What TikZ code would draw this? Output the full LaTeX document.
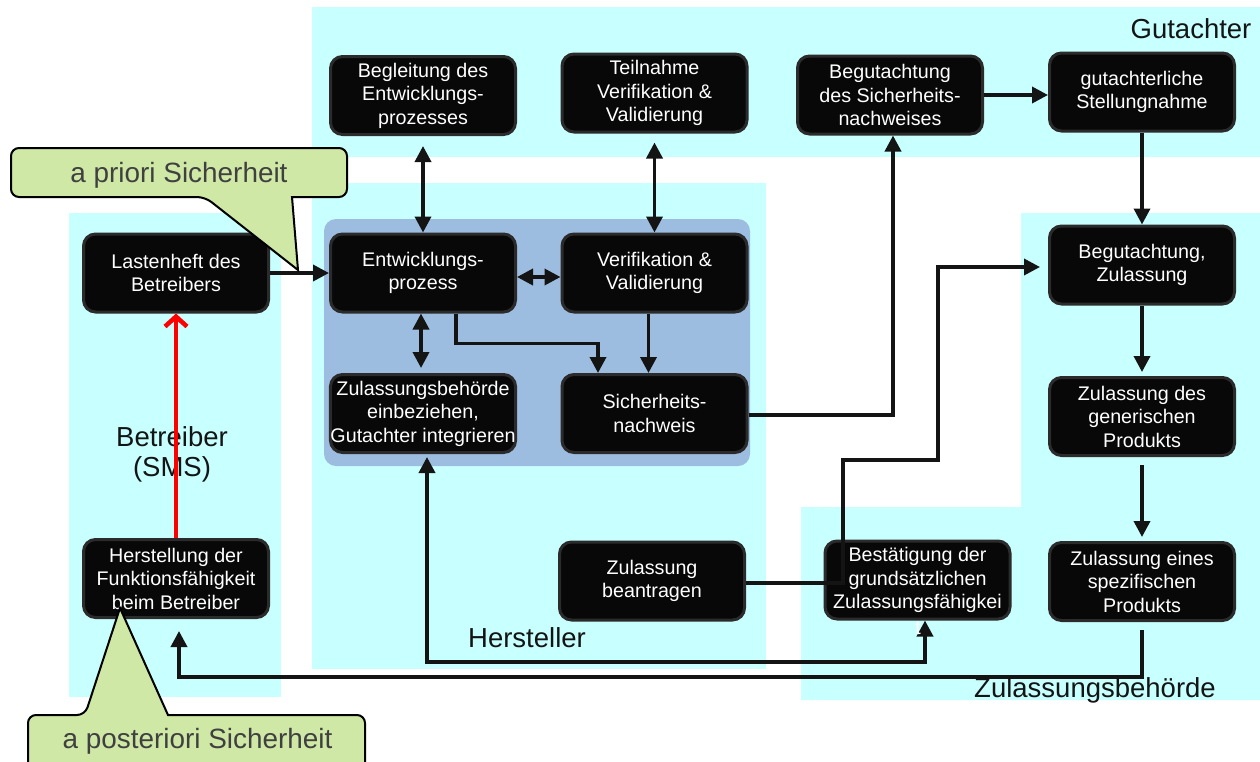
\documentclass[tikz,border=0pt]{standalone}
\usepackage{fontspec}
\setmainfont{Liberation Sans}
\usetikzlibrary{arrows.meta}

\definecolor{zone}{HTML}{C8FFFF}
\definecolor{core}{HTML}{9DBDE0}
\definecolor{boxfill}{HTML}{080808}
\definecolor{boxline}{HTML}{2B2B2B}
\definecolor{note}{HTML}{CFE8A6}
\definecolor{notetext}{HTML}{404040}
\definecolor{ink}{HTML}{141414}

\tikzset{
  blk/.style={draw=boxline, fill=boxfill, line width=3pt, rounded corners=12pt,
    minimum width=185pt, minimum height=78pt, text=white, align=center,
    inner sep=0pt, font=\fontsize{19.7}{23.5}\selectfont},
  zonelabel/.style={text=ink, font=\fontsize{27.5}{31}\selectfont, inner sep=0pt, anchor=base},
  arr/.style={draw=ink, line width=3.6pt, -{Triangle[length=16pt,width=16pt]}},
  dbl/.style={draw=ink, line width=3.6pt,
    {Triangle[length=16pt,width=16pt]}-{Triangle[length=16pt,width=16pt]}},
  callout/.style={fill=note, draw=black, line width=2pt},
  notelabel/.style={text=notetext, font=\fontsize{27.9}{32}\selectfont, inner sep=0pt, anchor=base},
}

\begin{document}
\begin{tikzpicture}[x=1pt, y=-1pt]
  \clip (0,0) rectangle (1260,761);

  % responsibility zones
  \fill[zone] (312,7) rectangle (1260,157);
  \fill[zone] (312,183) rectangle (766,669);
  \fill[zone] (69,213) rectangle (281,697);
  \fill[zone] (1021,213) -- (1260,213) -- (1260,700) -- (801,700) -- (801,507) -- (1021,507) -- cycle;
  \fill[core, rounded corners=12pt] (324,219) rectangle (750,466);

  % zone labels
  \node[zonelabel] (lg) at (1191,38) {Gutachter};
  \node[zonelabel] (lh) at (527,647) {Hersteller};
  \node[zonelabel] (lb1) at (172,446) {Betreiber};
  \node[zonelabel] (lb2) at (172,476) {(SMS)};
  \node[zonelabel] (lz) at (1095,697) {Zulassungsbehörde};

  % process steps
  \node[blk] (begl)  at (423,95.5)   {Begleitung des\\Entwicklungs-\\prozesses};
  \node[blk] (teil)  at (654.5,93)   {Teilnahme\\Verifikation \&\\Validierung};
  \node[blk] (bgsn)  at (890,95)     {Begutachtung\\des Sicherheits-\\nachweises};
  \node[blk] (gust)  at (1142,92)    {gutachterliche\\Stellungnahme};
  \node[blk] (last)  at (176,273)    {Lastenheft des\\Betreibers};
  \node[blk] (entw)  at (423,273)    {Entwicklungs-\\prozess};
  \node[blk] (verif) at (654.5,273)  {Verifikation \&\\Validierung};
  \node[blk] (zbeh)  at (423,413.5)  {Zulassungsbehörde\\einbeziehen,\\Gutachter integrieren};
  \node[blk] (sinw)  at (654.5,413.5){Sicherheits-\\nachweis};
  \node[blk] (zbean) at (652,581)    {Zulassung\\beantragen};
  \node[blk] (best)  at (917.5,580)  {Bestätigung der\\grundsätzlichen\\Zulassungsfähigkei};
  \node[blk] (bgzul) at (1142,265)   {Begutachtung,\\Zulassung};
  \node[blk] (zgen)  at (1142,416.5) {Zulassung des\\generischen\\Produkts};
  \node[blk] (zspez) at (1142,581.5) {Zulassung eines\\spezifischen\\Produkts};
  \node[blk] (herst) at (176,578.5)  {Herstellung der\\Funktionsfähigkeit\\beim Betreiber};

  % bend points
  \coordinate (k1) at (843,460);
  \coordinate (k2) at (938,460);
  \coordinate (k3) at (1142,677);
  \coordinate (k4) at (427,662);

  % connectors
  \draw[arr] (last.east) -- (entw.west);
  \draw[dbl, shorten <=10pt] (begl.south) -- (entw.north);
  \draw[dbl, shorten <=9pt] (teil.south) -- (verif.north);
  \draw[dbl] ([yshift=-4pt]entw.east) -- ([yshift=-4pt]verif.west);
  \draw[dbl, shorten >=5pt] ([xshift=-2pt]entw.south) -- ([xshift=-2pt]zbeh.north);
  \draw[arr] ([xshift=33pt]entw.south) -- ++(0,30) -| ([xshift=-56.5pt]sinw.north);
  \draw[arr] ([xshift=-6pt]verif.south) -- ([xshift=-6pt]sinw.north);
  \draw[arr] ([yshift=-1.5pt]sinw.east) -| ([xshift=3pt]bgsn.south);
  \draw[arr] (bgsn.east) -- (bgsn.east -| gust.west);
  \draw[arr] (gust.south) -- (bgzul.north);
  \draw[arr, shorten >=4pt] (bgzul.south) -- (zgen.north);
  \draw[arr, shorten <=8pt, shorten >=4pt] (zgen.south) -- (zspez.north);
  \draw[arr, shorten >=8pt] ([yshift=-2pt]zbean.east) -| (k1) -- (k2) |- ([yshift=-2pt]bgzul.west);
  \draw[arr, shorten <=8pt, shorten >=12pt] (zspez.south) -- (k3) -| ([xshift=3pt]herst.south);
  \draw[dbl, shorten <=3pt] ([xshift=4pt]zbeh.south) -- (k4) -| ([xshift=7.5pt]best.south);

  % wrapped last letter of the confirmation step
  \node[text=white, font=\fontsize{19.7}{23.5}\selectfont, inner sep=0pt, anchor=base] (tail) at (918,634) {t};

  % feedback from operation to the requirements
  \draw[draw=red, line width=4.5pt, -{Straight Barb[length=10pt,width=22pt]}] (herst.north) -- (last.south);

  % callouts
  \path[callout] (150,148) [rounded corners=8pt] -- (11,148) -- (11,197) -- (205,197)
    [sharp corners] -- (298,270) -- (292,197)
    [rounded corners=8pt] -- (347,197) -- (347,148) -- cycle;
  \node[notelabel] (napriori) at (179,182) {a priori Sicherheit};

  \path[callout] (200,775) [rounded corners=8pt] -- (28,775) -- (28,715) -- (85,715)
    [sharp corners] -- (120,608) -- (168,715)
    [rounded corners=8pt] -- (365,715) -- (365,775) -- cycle;
  \node[notelabel] (naposteriori) at (197.5,748) {a posteriori Sicherheit};
\end{tikzpicture}
\end{document}
